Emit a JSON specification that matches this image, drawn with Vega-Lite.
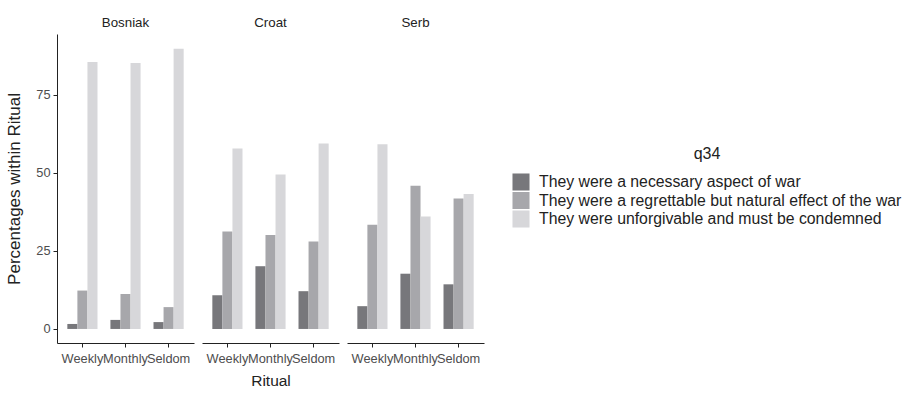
{
  "$schema": "https://vega.github.io/schema/vega-lite/v6.json",
  "padding": {"left": 5, "top": 15, "right": 5, "bottom": 5},
  "background": "white",
  "config": {
    "font": "Liberation Sans",
    "view": {"stroke": null},
    "axis": {"grid": false, "domainColor": "#222222", "tickColor": "#222222", "labelColor": "#4d4d4d", "labelFontSize": 12.8, "titleFontWeight": "normal", "titleColor": "#222222", "titleFontSize": 15.5, "tickSize": 4, "labelPadding": 5},
    "title": {"fontSize": 13.3, "fontWeight": "normal", "color": "#222222", "offset": 5}
  },
  "data": {"values": [
    {"group": "Bosniak", "ritual": "Weekly", "q34": "They were a necessary aspect of war", "pct": 1.6},
    {"group": "Bosniak", "ritual": "Weekly", "q34": "They were a regrettable but natural effect of the war", "pct": 12.3},
    {"group": "Bosniak", "ritual": "Weekly", "q34": "They were unforgivable and must be condemned", "pct": 85.5},
    {"group": "Bosniak", "ritual": "Monthly", "q34": "They were a necessary aspect of war", "pct": 2.9},
    {"group": "Bosniak", "ritual": "Monthly", "q34": "They were a regrettable but natural effect of the war", "pct": 11.2},
    {"group": "Bosniak", "ritual": "Monthly", "q34": "They were unforgivable and must be condemned", "pct": 85.2},
    {"group": "Bosniak", "ritual": "Seldom", "q34": "They were a necessary aspect of war", "pct": 2.2},
    {"group": "Bosniak", "ritual": "Seldom", "q34": "They were a regrettable but natural effect of the war", "pct": 7.0},
    {"group": "Bosniak", "ritual": "Seldom", "q34": "They were unforgivable and must be condemned", "pct": 89.8},
    {"group": "Croat", "ritual": "Weekly", "q34": "They were a necessary aspect of war", "pct": 10.8},
    {"group": "Croat", "ritual": "Weekly", "q34": "They were a regrettable but natural effect of the war", "pct": 31.2},
    {"group": "Croat", "ritual": "Weekly", "q34": "They were unforgivable and must be condemned", "pct": 57.8},
    {"group": "Croat", "ritual": "Monthly", "q34": "They were a necessary aspect of war", "pct": 20.1},
    {"group": "Croat", "ritual": "Monthly", "q34": "They were a regrettable but natural effect of the war", "pct": 30.1},
    {"group": "Croat", "ritual": "Monthly", "q34": "They were unforgivable and must be condemned", "pct": 49.5},
    {"group": "Croat", "ritual": "Seldom", "q34": "They were a necessary aspect of war", "pct": 12.1},
    {"group": "Croat", "ritual": "Seldom", "q34": "They were a regrettable but natural effect of the war", "pct": 28.0},
    {"group": "Croat", "ritual": "Seldom", "q34": "They were unforgivable and must be condemned", "pct": 59.4},
    {"group": "Serb", "ritual": "Weekly", "q34": "They were a necessary aspect of war", "pct": 7.3},
    {"group": "Serb", "ritual": "Weekly", "q34": "They were a regrettable but natural effect of the war", "pct": 33.4},
    {"group": "Serb", "ritual": "Weekly", "q34": "They were unforgivable and must be condemned", "pct": 59.2},
    {"group": "Serb", "ritual": "Monthly", "q34": "They were a necessary aspect of war", "pct": 17.7},
    {"group": "Serb", "ritual": "Monthly", "q34": "They were a regrettable but natural effect of the war", "pct": 45.9},
    {"group": "Serb", "ritual": "Monthly", "q34": "They were unforgivable and must be condemned", "pct": 36.0},
    {"group": "Serb", "ritual": "Seldom", "q34": "They were a necessary aspect of war", "pct": 14.3},
    {"group": "Serb", "ritual": "Seldom", "q34": "They were a regrettable but natural effect of the war", "pct": 41.8},
    {"group": "Serb", "ritual": "Seldom", "q34": "They were unforgivable and must be condemned", "pct": 43.2}
  ]},
  "spacing": 8,
  "hconcat": [
    {
      "title": "Bosniak",
      "width": 137, "height": 309,
      "transform": [{"filter": "datum.group === 'Bosniak'"}],
      "mark": {"type": "bar"},
      "encoding": {
        "x": {"field": "ritual", "type": "nominal", "sort": ["Weekly", "Monthly", "Seldom"], "scale": {"paddingInner": 0.3, "paddingOuter": 0.24}, "axis": {"title": null, "labelAngle": 0, "labelOverlap": false}},
        "xOffset": {"field": "q34", "type": "nominal", "sort": null, "scale": {"paddingInner": 0, "paddingOuter": 0}},
        "y": {"field": "pct", "type": "quantitative", "scale": {"domain": [-4.5, 94.5], "nice": false, "zero": false}, "axis": {"title": "Percentages within Ritual", "titleFontSize": 17, "values": [0, 25, 50, 75], "labelPadding": 3, "titlePadding": 12}},
        "color": {"field": "q34", "type": "nominal", "sort": null, "scale": {"range": ["#77777b", "#a7a7ab", "#d7d7da"]}, "legend": {"title": "q34", "orient": "none", "legendX": 455, "legendY": 112, "titleAnchor": "middle", "titleFontSize": 16, "titleFontWeight": "normal", "titleColor": "#222222", "labelFontSize": 15.8, "labelColor": "#222222", "symbolType": "square", "symbolSize": 290, "symbolStrokeWidth": 0, "rowPadding": 0.5, "labelOffset": 9, "titlePadding": 11, "labelLimit": 500}}
      }
    },
    {
      "title": "Croat",
      "width": 137, "height": 309,
      "transform": [{"filter": "datum.group === 'Croat'"}],
      "mark": {"type": "bar"},
      "encoding": {
        "x": {"field": "ritual", "type": "nominal", "sort": ["Weekly", "Monthly", "Seldom"], "scale": {"paddingInner": 0.3, "paddingOuter": 0.24}, "axis": {"title": "Ritual", "labelAngle": 0, "labelOverlap": false, "titlePadding": 9}},
        "xOffset": {"field": "q34", "type": "nominal", "sort": null, "scale": {"paddingInner": 0, "paddingOuter": 0}},
        "y": {"field": "pct", "type": "quantitative", "scale": {"domain": [-4.5, 94.5], "nice": false, "zero": false}, "axis": null},
        "color": {"field": "q34", "type": "nominal", "sort": null}
      }
    },
    {
      "title": "Serb",
      "width": 137, "height": 309,
      "transform": [{"filter": "datum.group === 'Serb'"}],
      "mark": {"type": "bar"},
      "encoding": {
        "x": {"field": "ritual", "type": "nominal", "sort": ["Weekly", "Monthly", "Seldom"], "scale": {"paddingInner": 0.3, "paddingOuter": 0.24}, "axis": {"title": null, "labelAngle": 0, "labelOverlap": false}},
        "xOffset": {"field": "q34", "type": "nominal", "sort": null, "scale": {"paddingInner": 0, "paddingOuter": 0}},
        "y": {"field": "pct", "type": "quantitative", "scale": {"domain": [-4.5, 94.5], "nice": false, "zero": false}, "axis": null},
        "color": {"field": "q34", "type": "nominal", "sort": null}
      }
    }
  ]
}
